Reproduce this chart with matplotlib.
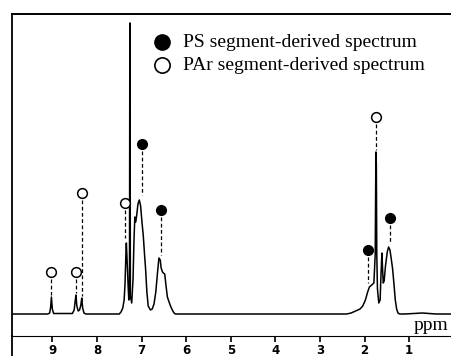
import matplotlib.pyplot as plt
import numpy as np

# spectrum (ppm, intensity in arbitrary units)
ppm = [9.90, 9.10, 9.06, 9.04, 9.02, 9.00, 8.97, 8.55, 8.51, 8.49, 8.47,
       8.45, 8.42, 8.39, 8.36, 8.34, 8.32, 8.29, 8.25, 7.50, 7.46, 7.42,
       7.39, 7.37, 7.35, 7.34, 7.32, 7.30, 7.285, 7.27, 7.262, 7.258, 7.25,
       7.22, 7.19, 7.17, 7.15, 7.13, 7.11, 7.08, 7.05, 7.02, 6.99, 6.96,
       6.93, 6.91, 6.88, 6.85, 6.80, 6.76, 6.72, 6.68, 6.64, 6.61, 6.58,
       6.56, 6.53, 6.51, 6.48, 6.45, 6.42, 6.39, 6.35, 6.31, 6.27, 6.24,
       2.40, 2.30, 2.20, 2.10, 2.04, 1.98, 1.93, 1.89, 1.84, 1.79, 1.76,
       1.745, 1.735, 1.725, 1.71, 1.68, 1.65, 1.63, 1.61, 1.595, 1.58, 1.56,
       1.53, 1.49, 1.46, 1.43, 1.40, 1.37, 1.34, 1.31, 1.28, 1.25, 1.21,
       1.10, 0.90, 0.70, 0.55, 0.40, 0.06]
inten = [0, 0, 1, 6, 17, 5, 0.5, 0.5, 4, 12, 19,
         8, 3, 4, 9, 16, 6, 1, 0, 0, 2, 6,
         14, 30, 60, 71, 50, 28, 14, 20, 291, 291, 18,
         11, 35, 72, 97, 92, 98, 110, 114, 108, 92, 78,
         58, 46, 22, 8, 4, 5, 10, 22, 42, 56, 54,
         46, 42, 41, 40, 28, 17, 13, 8, 4, 1, 0,
         0, 1, 3, 5, 8, 14, 22, 27, 29, 31, 60,
         162, 150, 60, 25, 11, 14, 40, 61, 45, 31, 33,
         48, 62, 67, 64, 55, 45, 30, 14, 5, 1, 0,
         0, 0.5, 1, 0.5, 0, 0]

# peak assignments: ppm of marker, marker height, peak top height
ps_ppm = [6.98, 6.57, 1.93, 1.42]
ps_mark = [170, 104, 64, 96]
ps_peak = [118, 58, 30, 70]
par_ppm = [9.02, 8.48, 8.33, 7.38, 1.735]
par_mark = [42, 42, 121, 111, 197]
par_peak = [18, 20, 17, 75, 163]

legend_labels = ['PS segment-derived spectrum', 'PAr segment-derived spectrum']
ticks = [9, 8, 7, 6, 5, 4, 3, 2, 1]

fig = plt.figure(figsize=(4.51, 3.56), dpi=100)
ax = fig.add_axes([12 / 451, 20 / 356, 439 / 451, 322 / 356])

ax.plot(ppm, inten, color='black', lw=1.1)

for x, m, p in zip(ps_ppm, ps_mark, ps_peak):
    ax.plot([x, x], [m - 7, p + 1], color='black', lw=0.9, ls=(0, (3, 2)))
    ax.plot(x, m, 'o', color='black', ms=7)
for x, m, p in zip(par_ppm, par_mark, par_peak):
    ax.plot([x, x], [m - 7, p + 1], color='black', lw=0.9, ls=(0, (3, 2)))
    ax.plot(x, m, 'o', mfc='white', mec='black', mew=1.1, ms=7)

# legend drawn by hand like the original
ax.plot(6.54, 272, 'o', color='black', ms=11, clip_on=False)
ax.plot(6.54, 249, 'o', mfc='white', mec='black', mew=1.2, ms=11, clip_on=False)
ax.text(6.07, 272, legend_labels[0], family='Liberation Serif', fontsize=14,
        va='center', ha='left')
ax.text(6.07, 249, legend_labels[1], family='Liberation Serif', fontsize=14,
        va='center', ha='left')

ax.text(0.11, -12, 'ppm', family='Liberation Serif', fontsize=14,
        va='center', ha='right')

ax.set_xlim(9.904, 0.061)
ax.set_ylim(-22, 300)
ax.set_xticks(ticks)
ax.set_xticklabels([str(t) for t in ticks], fontweight='bold', fontsize=8.5)
ax.set_yticks([])
ax.tick_params(axis='x', direction='out', length=4, width=1.2, pad=2)
ax.spines['right'].set_visible(False)
ax.spines['top'].set_linewidth(1.4)
ax.spines['left'].set_linewidth(1.3)
ax.spines['bottom'].set_linewidth(0.8)
ax.spines['bottom'].set_linestyle((0, (4, 1)))
# left border runs on below the scale line
ax.plot([0, 0], [-0.07, 0], transform=ax.transAxes, color='black', lw=1.3,
        clip_on=False)

plt.savefig('out.png', dpi=100)
